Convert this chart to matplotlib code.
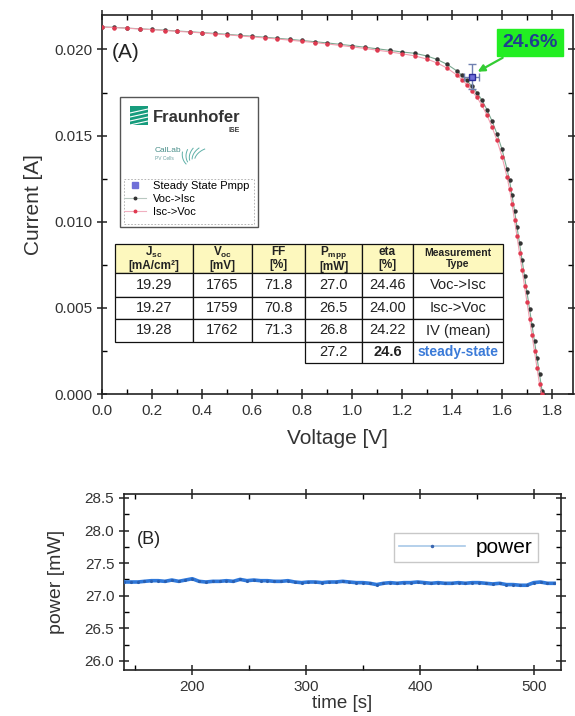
import matplotlib
matplotlib.use('Agg')
import matplotlib.pyplot as plt
from matplotlib.patches import Rectangle
from matplotlib.lines import Line2D
from matplotlib.ticker import MultipleLocator, FormatStrFormatter
import numpy as np

plt.rcParams['font.family'] = ['Liberation Sans', 'DejaVu Sans']
plt.rcParams['mathtext.default'] = 'regular'

W, H = 575, 716

# ---------------- data ----------------
v_down = [0.00, 0.05, 0.10, 0.15, 0.20, 0.25, 0.30, 0.35, 0.40, 0.45, 0.50, 0.55, 0.60, 0.65,
          0.70, 0.75, 0.80, 0.85, 0.90, 0.95, 1.00, 1.05, 1.10, 1.15, 1.20, 1.25, 1.30, 1.34,
          1.38, 1.42, 1.44, 1.46, 1.48, 1.50, 1.52, 1.54, 1.56, 1.58, 1.60, 1.62, 1.63, 1.64,
          1.65, 1.66, 1.67, 1.68, 1.69, 1.70, 1.71, 1.72, 1.73, 1.74, 1.75, 1.76, 1.765]
i_down_mA = [21.31, 21.28, 21.24, 21.20, 21.16, 21.12, 21.07, 21.03, 20.98, 20.93, 20.88, 20.82,
             20.77, 20.71, 20.65, 20.59, 20.52, 20.45, 20.38, 20.30, 20.22, 20.13, 20.04, 19.95,
             19.85, 19.78, 19.62, 19.42, 19.14, 18.75, 18.50, 18.20, 17.85, 17.50, 17.05, 16.50,
             15.85, 15.10, 14.20, 13.05, 12.40, 11.55, 10.65, 9.70, 8.75, 7.80, 6.85, 5.90, 4.95,
             4.00, 3.05, 2.10, 1.15, 0.20, 0.00]
v_up = [0.00, 0.05, 0.10, 0.15, 0.20, 0.25, 0.30, 0.35, 0.40, 0.45, 0.50, 0.55, 0.60, 0.65,
        0.70, 0.75, 0.80, 0.85, 0.90, 0.95, 1.00, 1.05, 1.10, 1.15, 1.20, 1.25, 1.30, 1.34,
        1.38, 1.42, 1.44, 1.46, 1.48, 1.50, 1.52, 1.54, 1.56, 1.58, 1.60, 1.62, 1.63, 1.64,
        1.65, 1.66, 1.67, 1.68, 1.69, 1.70, 1.71, 1.72, 1.73, 1.74, 1.75, 1.759]
i_up_mA = [21.30, 21.27, 21.23, 21.19, 21.15, 21.10, 21.05, 21.01, 20.96, 20.90, 20.85, 20.79,
           20.73, 20.67, 20.61, 20.54, 20.47, 20.40, 20.32, 20.24, 20.15, 20.06, 19.96, 19.86,
           19.75, 19.63, 19.44, 19.22, 18.92, 18.51, 18.25, 17.94, 17.58, 17.22, 16.75, 16.18,
           15.50, 14.72, 13.78, 12.60, 11.90, 11.02, 10.10, 9.15, 8.18, 7.22, 6.27, 5.32, 4.37,
           3.42, 2.47, 1.52, 0.57, 0.00]
ss_v, ss_i = 1.478, 0.01843
ss_verr, ss_ierr = 0.03, 0.0007
eff_label = '24.6%'

headers = ['J$_{sc}$\n[mA/cm²]', 'V$_{oc}$\n[mV]', 'FF\n[%]', 'P$_{mpp}$\n[mW]', 'eta\n[%]',
           'Measurement\nType']
jsc = ['19.29', '19.27', '19.28', None]
voc = ['1765', '1759', '1762', None]
ff = ['71.8', '70.8', '71.3', None]
pmpp = ['27.0', '26.5', '26.8', '27.2']
eta = ['24.46', '24.00', '24.22', '24.6']
mtype = ['Voc->Isc', 'Isc->Voc', 'IV (mean)', 'steady-state']

time_s = [140, 146, 152, 158, 164, 170, 176, 182, 188, 194, 200, 206, 212, 218, 224, 230, 236,
          242, 248, 254, 260, 266, 272, 278, 284, 290, 296, 302, 308, 314, 320, 326, 332, 338,
          344, 350, 356, 362, 368, 374, 380, 386, 392, 398, 404, 410, 416, 422, 428, 434, 440,
          446, 452, 458, 464, 470, 476, 482, 488, 494, 500, 506, 512, 518]
power_mW = [27.21, 27.21, 27.21, 27.22, 27.23, 27.23, 27.22, 27.24, 27.22, 27.24, 27.26, 27.22,
            27.21, 27.22, 27.22, 27.23, 27.22, 27.25, 27.23, 27.24, 27.23, 27.23, 27.22, 27.22,
            27.23, 27.21, 27.20, 27.21, 27.21, 27.20, 27.21, 27.21, 27.22, 27.21, 27.20, 27.20,
            27.19, 27.17, 27.19, 27.20, 27.19, 27.20, 27.20, 27.21, 27.20, 27.19, 27.20, 27.19,
            27.19, 27.20, 27.19, 27.20, 27.20, 27.19, 27.18, 27.19, 27.17, 27.17, 27.16, 27.16,
            27.20, 27.21, 27.19, 27.19]

# ---------------- figure ----------------
fig = plt.figure(figsize=(W / 100, H / 100), dpi=100)
TF = fig.transFigure


def fx(x):
    return x / W


def fy(y):
    return 1 - y / H


axA = fig.add_axes([fx(102), fy(394), 471 / W, 379 / H])
axB = fig.add_axes([fx(124), fy(670), 437 / W, 176 / H])

for ax in (axA, axB):
    for s in ax.spines.values():
        s.set_linewidth(1.2)
        s.set_color('#222222')
    ax.tick_params(which='major', direction='inout', length=7, width=1.1, top=True, right=True,
                   labelsize=11, colors='#222222', labelcolor='#333333')
    ax.tick_params(which='minor', direction='in', length=3.5, width=1.0, top=True, right=True)

# ---------- panel A ----------
iv_dn = np.array(i_down_mA) / 1000.0
iv_up = np.array(i_up_mA) / 1000.0
axA.plot(v_down, iv_dn, color='#7aa890', lw=0.8, marker='o', ms=2.2, mfc='#333333',
         mec='#333333', label='Voc->Isc', zorder=3)
axA.plot(v_up, iv_up, color='#f0a0b0', lw=0.8, marker='o', ms=2.2, mfc='#e03a50',
         mec='#e03a50', label='Isc->Voc', zorder=3)
axA.errorbar([ss_v], [ss_i], xerr=[ss_verr], yerr=[ss_ierr], fmt='s', ms=5, mfc='#6f6fd8',
             mec='#2b2b9a', ecolor='#7080b0', elinewidth=1, capsize=3, zorder=4,
             label='Steady State Pmpp')
axA.set_xlim(0, 1.884)
axA.set_ylim(0, 0.022)
axA.xaxis.set_major_locator(MultipleLocator(0.2))
axA.xaxis.set_minor_locator(MultipleLocator(0.1))
axA.yaxis.set_major_locator(MultipleLocator(0.005))
axA.yaxis.set_minor_locator(MultipleLocator(0.0025))
axA.xaxis.set_major_formatter(FormatStrFormatter('%.1f'))
axA.yaxis.set_major_formatter(FormatStrFormatter('%.3f'))
axA.set_xlabel('Voltage [V]', fontsize=15, color='#333333', labelpad=8)
axA.set_ylabel('Current [A]', fontsize=15, color='#333333', labelpad=8)
axA.text(0.021, 0.902, '(A)', transform=axA.transAxes, fontsize=15, va='center', ha='left',
         color='#222222')

axA.annotate(eff_label, xy=(ss_v + 0.015, ss_i + 0.0002), xytext=(1.712, 0.0204),
             textcoords='data', fontsize=14, fontweight='bold', color='#1f3f8f',
             ha='center', va='center', zorder=9,
             bbox=dict(boxstyle='square,pad=0.25', fc='#22ee22', ec='#22ee22'),
             arrowprops=dict(arrowstyle='-|>', color='#33cc33', lw=1.6, mutation_scale=10,
                             shrinkA=2, shrinkB=2))

# logo / legend box
axA.add_patch(Rectangle((fx(120), fy(227)), (258 - 120) / W, (227 - 97) / H, transform=TF,
                        fc='white', ec='#555555', lw=1.0, zorder=5, clip_on=False))
axA.add_patch(Rectangle((fx(124), fy(224)), (254 - 124) / W, (224 - 179) / H, transform=TF,
                        fc='none', ec='#aaaaaa', lw=0.6, ls=(0, (2, 2)), zorder=5.5,
                        clip_on=False))
# Fraunhofer mark
axA.add_patch(Rectangle((fx(130), fy(125)), 18 / W, 19 / H, transform=TF, fc='#179c7d',
                        ec='none', zorder=5.6, clip_on=False))
for k in range(4):
    yy = 110 + k * 4
    axA.plot([fx(130), fx(148)], [fy(yy + 3), fy(yy - 1)], transform=TF, color='white',
             lw=0.8, zorder=5.7, clip_on=False)
fig.text(fx(153), fy(117), 'Fraunhofer', fontsize=12, fontweight='bold', color='#333333',
         ha='left', va='center')
fig.text(fx(234), fy(131), 'ISE', fontsize=5, fontweight='bold', color='#333333',
         ha='center', va='center')
fig.text(fx(155), fy(150), 'CalLab', fontsize=6, color='#4a8f8a', ha='left', va='center')
fig.text(fx(155), fy(158), 'PV Cells', fontsize=3.5, color='#6aa0a0', ha='left', va='center')
for k in range(5):
    ang0 = np.deg2rad(100 + k * 14)
    r = np.linspace(10, 20, 8)
    th = ang0 - np.linspace(0, 0.5, 8)
    xs = 192 + r * np.cos(th) * 1.2
    ys = 168 - r * np.sin(th) * 1.0
    axA.plot(fx(xs + 5), fy(ys), transform=TF, color='#5fb0a8', lw=0.7, zorder=5.7,
             clip_on=False)

leg = axA.legend(handles=[
    Line2D([], [], ls='none', marker='s', ms=4, mfc='#6f6fd8', mec='#6f6fd8'),
    Line2D([], [], color='#b8c8c0', lw=0.8, marker='o', ms=1.8, mfc='#333333', mec='#333333'),
    Line2D([], [], color='#f0b0c0', lw=0.8, marker='o', ms=1.8, mfc='#e03a50', mec='#e03a50')],
    labels=['Steady State Pmpp', 'Voc->Isc', 'Isc->Voc'],
    loc='upper left', bbox_to_anchor=(fx(122), fy(179)), bbox_transform=TF, frameon=False,
    fontsize=8, handlelength=2.0, handletextpad=0.6, labelspacing=0.25, borderpad=0.2,
    borderaxespad=0)
leg.set_zorder(6)

# table
col_edges = [115, 193, 252, 305, 362, 413, 503]
row_edges = [244, 273, 297, 319, 342, 363]


def cell(c, r, txt, fc='white', **kw):
    x0, x1 = col_edges[c], col_edges[c + 1]
    y0, y1 = row_edges[r], row_edges[r + 1]
    axA.add_patch(Rectangle((fx(x0), fy(y1)), (x1 - x0) / W, (y1 - y0) / H, transform=TF,
                            fc=fc, ec='#111111', lw=0.9, zorder=7, clip_on=False))
    if txt is not None:
        axA.text(fx((x0 + x1) / 2), fy((y0 + y1) / 2), txt, transform=TF, ha='center',
                 va='center', zorder=8, clip_on=False, **kw)


for c, h in enumerate(headers):
    cell(c, 0, h, fc='#fdf8be', fontsize=8.5 if c < 5 else 7.5, fontweight='bold',
         linespacing=1.05, color='#222222')
cols = [jsc, voc, ff, pmpp, eta, mtype]
for c, vals in enumerate(cols):
    for r, v in enumerate(vals):
        if v is None:
            continue
        kw = dict(fontsize=10.5, color='#222222')
        if r == 3 and c == 4:
            kw['fontweight'] = 'bold'
        if r == 3 and c == 5:
            kw.update(fontweight='bold', color='#3a7ad8', fontsize=10)
        cell(c, r + 1, v, **kw)

# ---------- panel B ----------
axB.plot(time_s, power_mW, color='#2f78da', lw=2.6, marker='.', ms=2.5, mfc='#2a5fb0',
         mec='#2a5fb0', zorder=3)
axB.set_xlim(140, 524)
axB.set_ylim(25.86, 28.56)
axB.xaxis.set_major_locator(MultipleLocator(100))
axB.xaxis.set_minor_locator(MultipleLocator(50))
axB.yaxis.set_major_locator(MultipleLocator(0.5))
axB.yaxis.set_minor_locator(MultipleLocator(0.25))
axB.yaxis.set_major_formatter(FormatStrFormatter('%.1f'))
axB.tick_params(labelsize=11)
axB.set_xlabel('time [s]', fontsize=13.5, color='#333333', labelpad=1)
axB.set_ylabel('power [mW]', fontsize=14, color='#333333', labelpad=14)
axB.text(0.03, 0.74, '(B)', transform=axB.transAxes, fontsize=13, ha='left', va='center',
         color='#222222')
lg = axB.legend(handles=[Line2D([], [], color='#a8c8e8', lw=1.2, marker='.', ms=3,
                                mfc='#3a66b0', mec='#3a66b0')],
                labels=['power'], loc='upper right', bbox_to_anchor=(0.947, 0.78),
                fontsize=15, handlelength=3.2, frameon=True, fancybox=False,
                edgecolor='#bbbbbb', borderaxespad=0, borderpad=0.25, handletextpad=0.5)
lg.get_frame().set_linewidth(1.0)

fig.savefig('out.png', dpi=100)
